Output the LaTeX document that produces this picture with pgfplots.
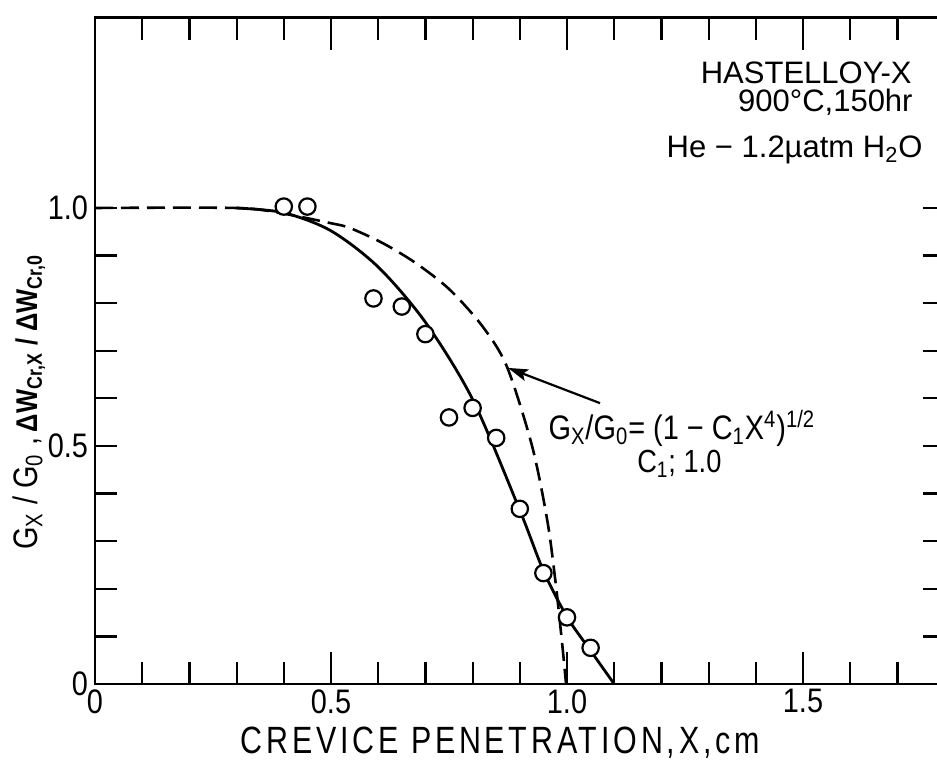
\documentclass[border=0pt]{standalone}
\usepackage{pgfplots}
\pgfplotsset{compat=1.18}
\usepackage{fontspec}
\setmainfont{Liberation Sans}
\newfontfamily\narrow{Liberation Sans}[FakeStretch=0.85]
\newfontfamily\spaced{Liberation Sans}[FakeStretch=0.8, LetterSpace=10]
\usetikzlibrary{arrows.meta}
\begin{document}
\begin{tikzpicture}
\begin{axis}[name=ax,
  x=236pt, y=238pt,
  xmin=0, xmax=1.8, ymin=0, ymax=1.4,
  axis line style={line width=1.3pt},
  xtick={0,0.5,1,1.5}, xticklabels={0,0.5,1.0,1.5},
  minor xtick={0.1,0.2,0.3,0.4,0.6,0.7,0.8,0.9,1.1,1.2,1.3,1.4,1.6,1.7},
  ytick={0,0.5,1}, yticklabels={0,0.5,1.0},
  minor ytick={0.1,0.2,0.3,0.4,0.6,0.7,0.8,0.9},
  tick align=inside,
  tick style={line width=1.1pt, black},
  xtick style={/pgfplots/major tick length=16pt,/pgfplots/minor tick length=11pt},
  ytick style={/pgfplots/major tick length=11pt,/pgfplots/minor tick length=11pt},
  tick label style={font=\narrow\fontsize{17}{17}\selectfont},
  xticklabel style={inner sep=0.5pt, yshift=-2pt},
  xlabel={CREVICE PENETRATION,X,cm},
  xlabel style={font=\spaced\fontsize{19}{19}\selectfont, inner sep=0pt, at={(axis description cs:0.477,-0.104)}, anchor=base},
  ylabel={\narrow\fontsize{17}{17}\selectfont G\textsubscript{X} / G\textsubscript{0} ,\,{\bfseries\fontsize{15}{15}\selectfont ΔW\textsubscript{Cr,X} / ΔW\textsubscript{Cr,0}}},
  ylabel style={at={(axis description cs:-0.068,0.423)}, anchor=base, inner sep=0pt},
]
% dashed model curve
\addplot[black, line width=1.3pt, dash pattern=on 9pt off 4pt, smooth] coordinates {
(0,1) (0.30,1.0) (0.40,0.988) (0.50,0.968) (0.54,0.958) (0.61,0.926) (0.68,0.884) (0.752,0.828) (0.822,0.750) (0.873,0.666) (0.926,0.50) (0.958,0.345) (0.975,0.22) (0.989,0.092) (0.998,0)
};
% solid fitted curve
\addplot[black, line width=1.4pt, smooth] coordinates {
(0.30,1.0) (0.40,0.990) (0.50,0.952) (0.60,0.876) (0.70,0.760) (0.80,0.598) (0.90,0.365) (0.95,0.238) (1.00,0.141) (1.05,0.070) (1.10,0.0)
};
% data
\addplot[only marks, mark=*, mark size=4.1pt, mark options={fill=white, draw=black, line width=1.1pt}] coordinates {
(0.40,1.003) (0.45,1.003) (0.59,0.81) (0.65,0.793) (0.70,0.735) (0.75,0.56) (0.80,0.58) (0.85,0.517) (0.90,0.368) (0.95,0.233) (1.00,0.14) (1.05,0.076)
};
\draw[line width=1.1pt, -{Stealth[length=10pt, width=6pt, inset=2pt]}] (axis cs:1.07,0.59) -- (axis cs:0.875,0.664);
\node[anchor=base west, font=\narrow\fontsize{17}{17}\selectfont, inner sep=0pt] at (axis cs:0.96,0.513)
  {G\textsubscript{X}/G\textsubscript{0}= (1 − C\textsubscript{1}X\textsuperscript{4})\textsuperscript{1/2}};
\node[anchor=base west, font=\narrow\fontsize{16}{16}\selectfont, inner sep=0pt] at (axis cs:1.148,0.445)
  {C\textsubscript{1}; 1.0};
\node[anchor=base east, font=\fontsize{15.5}{15.5}\selectfont, inner sep=0pt] at (axis cs:1.731,1.261) {HASTELLOY-X};
\node[anchor=base east, font=\fontsize{15.5}{15.5}\selectfont, inner sep=0pt] at (axis cs:1.733,1.202) {900°C,150hr};
\node[anchor=base east, font=\fontsize{15.5}{15.5}\selectfont, inner sep=0pt] at (axis cs:1.754,1.107) {He − 1.2µatm H\textsubscript{2}O};
\end{axis}
\pgfresetboundingbox
\path[use as bounding box] ([xshift=-47.5pt,yshift=-38pt]ax.south west) rectangle ([xshift=421pt,yshift=342pt]ax.south west);
\end{tikzpicture}
\end{document}
